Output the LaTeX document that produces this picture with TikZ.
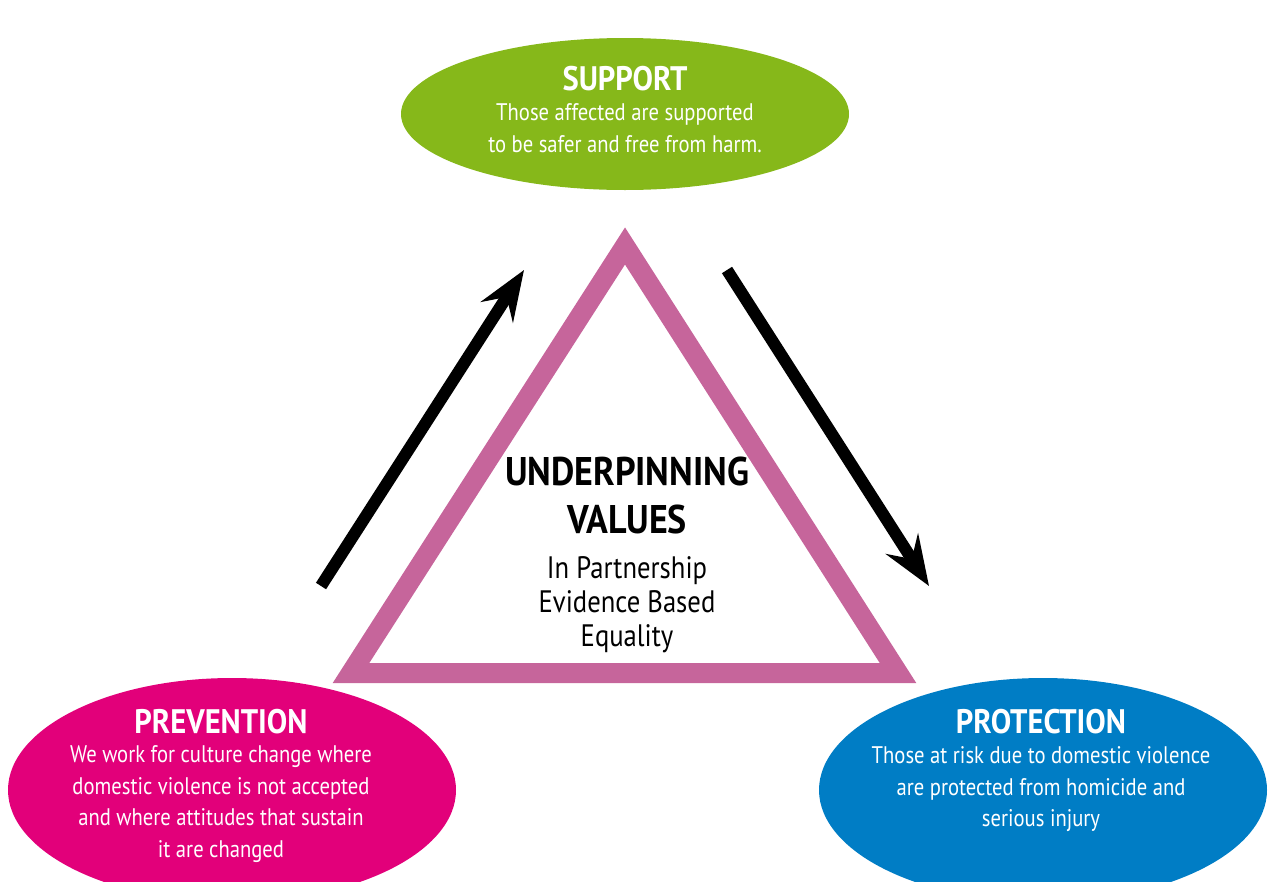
\documentclass[tikz,border=0pt]{standalone}
\usepackage{fontspec}
\setmainfont{PT Sans}[FakeStretch=0.86,BoldFeatures={FakeStretch=0.9}]
\usetikzlibrary{arrows.meta,positioning,shapes.geometric}

\definecolor{supportgreen}{RGB}{134,184,26}
\definecolor{preventpink}{RGB}{226,0,122}
\definecolor{protectblue}{RGB}{0,125,197}
\definecolor{valuesmauve}{RGB}{198,101,155}

\tikzset{
  goal/.style={ellipse,inner sep=0pt,minimum width=448pt},
  heading/.style={font=\bfseries\fontsize{34}{34}\selectfont,text=white,inner sep=0pt,anchor=base},
  blurb/.style={font=\fontsize{24}{31.5}\selectfont,text=white,align=center,inner sep=0pt},
  cyclearrow/.style={line width=12pt,-{Stealth[length=50pt,width=38pt,inset=18pt]}}
}

\begin{document}
\begin{tikzpicture}[x=1pt,y=-1pt]
\useasboundingbox (0,0) rectangle (1268,881);
% the three goals
\node (support)[goal,fill=supportgreen,minimum height=152pt] at (625,114) {};
\node (prevention)[goal,fill=preventpink,minimum height=224pt] at (232,790) {};
\node (protection)[goal,fill=protectblue,minimum height=224pt] at (1043,790) {};

% triangle of values
\draw[valuesmauve,line width=20pt,line join=miter]
  (351,673) -- (625,246) -- (898,673) -- cycle;

% arrows round the triangle
\coordinate (uptail) at (321,586);
\coordinate (uptip) at (524,270);
\coordinate (downtail) at (727,270);
\coordinate (downtip) at (929,586);
\draw[cyclearrow] (uptail) -- (uptip);
\draw[cyclearrow] (downtail) -- (downtip);

% texts
\node (supporttitle)[heading] at (625,90) {SUPPORT};
\node (supportbody)[blurb,below=13pt of supporttitle]
  {Those affected are supported\\to be safer and free from harm.};
\node (preventiontitle)[heading] at (221,733) {PREVENTION};
\node (preventionbody)[blurb,below=12pt of preventiontitle]
  {We work for culture change where\\domestic violence is not accepted\\and where attitudes that sustain\\it are changed};
\node (protectiontitle)[heading] at (1041,733) {PROTECTION};
\node (protectionbody)[blurb,below=13pt of protectiontitle]
  {Those at risk due to domestic violence\\are protected from homicide and\\serious injury};

\node (underpinning)[font=\bfseries\fontsize{40}{40}\selectfont,inner sep=0pt,anchor=base] at (627,485) {UNDERPINNING};
\node (valueshead)[font=\bfseries\fontsize{40}{40}\selectfont,inner sep=0pt,anchor=base] at (627,533) {VALUES};
\node (valuelist)[font=\fontsize{31}{34}\selectfont,align=center,inner sep=0pt,below=23pt of valueshead]
  {In Partnership\\Evidence Based\\Equality};
\end{tikzpicture}
\end{document}
